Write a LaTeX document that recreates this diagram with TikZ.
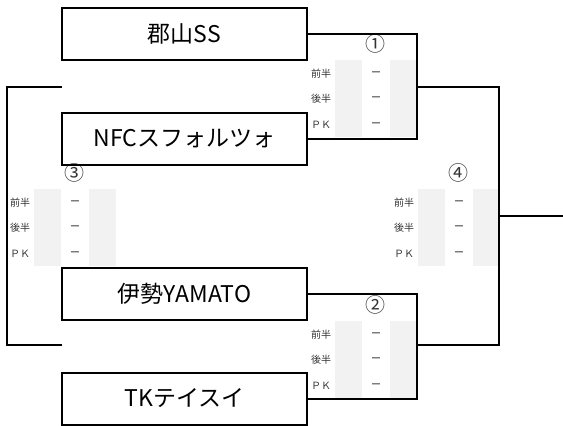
\documentclass[tikz,border=0pt]{standalone}
\usepackage{fontspec}
\setmainfont{Noto Sans CJK JP}
\definecolor{cellgray}{HTML}{F2F2F2}
\definecolor{lblgray}{HTML}{333333}
\tikzset{
  team/.style={draw=black, line width=2pt, minimum width=245pt, minimum height=52pt, inner sep=0pt, font=\fontsize{23}{23}\selectfont},
  link/.style={draw=black, line width=2pt},
  cell/.style={fill=cellgray, draw=none, minimum width=27pt, minimum height=77pt, inner sep=0pt, anchor=north west},
  lbl/.style={font=\fontsize{10}{10}\selectfont, text=lblgray, inner sep=0pt},
  dsh/.style={font=\fontsize{11}{11}\selectfont, inner sep=0pt},
  num/.style={font=\fontsize{20}{20}\selectfont, text=lblgray, inner sep=0pt}
}
\newcommand\scoreblock[4]{%
  \node[cell] (#1c1) at (#2,#3) {};
  \node[cell] (#1c2) at (#2+55,#3) {};
  \node[num] (#1n) at (#2+40,#3-16) {#4};
  \node[lbl] (#1la) at (#2-14,#3+14) {前半};
  \node[lbl] (#1lb) at (#2-14,#3+39) {後半};
  \node[lbl] (#1lc) at (#2-14,#3+65) {ＰＫ};
  \node[dsh] (#1da) at (#2+41,#3+14) {－};
  \node[dsh] (#1db) at (#2+41,#3+39) {－};
  \node[dsh] (#1dc) at (#2+41,#3+65) {－};
}
\begin{document}
\begin{tikzpicture}[x=1pt,y=-1pt]
\useasboundingbox (0,0) rectangle (563,426);
% score tables (drawn first, under lines)
\scoreblock{s1}{335}{60}{①}
\scoreblock{s2}{335}{321}{②}
\scoreblock{s3}{34}{189}{③}
\scoreblock{s4}{418}{189}{④}
% teams
\node[team] (t1) at (184.5,34) {郡山SS};
\node[team] (t2) at (184.5,138.5) {NFCスフォルツォ};
\node[team] (t3) at (184.5,294) {伊勢YAMATO};
\node[team] (t4) at (184.5,398.5) {TKテイスイ};
% coordinates
\coordinate (m1) at (417,87);
\coordinate (m2) at (417,345);
\coordinate (r) at (499,216);
\coordinate (out) at (563,216);
\coordinate (l1) at (62,87);
\coordinate (l2) at (62,345);
\coordinate (lr) at (7,216);
% connectors
\draw[link] (t1.east) -| (m1) |- (t2.east);
\draw[link] (t3.east) -| (m2) |- (t4.east);
\draw[link] (m1) -| (r) |- (m2);
\draw[link] (r) -- (out);
\draw[link] (l1) -| (lr) |- (l2);
\end{tikzpicture}
\end{document}
